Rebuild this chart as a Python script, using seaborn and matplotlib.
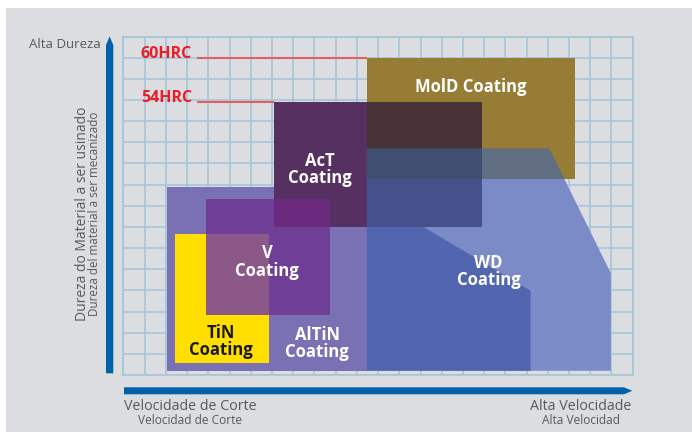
import numpy as np
import pandas as pd
import matplotlib
matplotlib.use("Agg")
import matplotlib.pyplot as plt
import seaborn as sns
from matplotlib.patches import Polygon, Rectangle

# ---------------- data (grid units: speed 0-24, hardness 0-16) ----------------
rect_names = ["AlTiN", "TiN", "V", "AcT", "MolD"]
rect_speed_lo = [2.06, 2.43, 3.87, 7.09, 11.48]
rect_speed_hi = [11.46, 6.86, 9.73, 16.91, 21.26]
rect_hard_lo = [0.19, 0.58, 2.85, 6.98, 9.25]
rect_hard_hi = [8.87, 6.65, 8.32, 12.90, 14.97]

wd_light_speed = [11.46, 20.07, 22.97, 22.97, 11.46]
wd_light_hard = [10.71, 10.71, 4.81, 0.20, 0.20]
wd_dark_speed = [11.46, 12.47, 19.19, 19.19, 11.46]
wd_dark_hard = [8.00, 8.00, 3.98, 0.20, 0.20]

hrc_labels = ["60HRC", "54HRC"]
hrc_levels = [14.97, 12.90]
hrc_line_start = [3.48, 3.48]
hrc_line_end = [11.48, 7.09]

label_names = ["MolD", "AcT", "V", "TiN", "AlTiN", "WD"]
label_texts = ["MolD Coating", "AcT\nCoating", "V\nCoating", "TiN\nCoating", "AlTiN\nCoating", "WD\nCoating"]
label_speed = [16.38, 9.24, 6.78, 4.61, 9.13, 17.21]
label_hard = [13.62, 9.71, 5.34, 1.58, 1.50, 4.90]
label_colors = ["white", "white", "white", "#1a1a1a", "white", "white"]

x_title = "Velocidade de Corte"
x_title_es = "Velocidad de Corte"
x_high = "Alta Velocidade"
x_high_es = "Alta Velocidad"
y_title = "Dureza do Material a ser usinado"
y_title_es = "Dureza del material a ser mecanizado"
y_high = "Alta Dureza"

# ---------------- style ----------------
sns.set_theme(style="white")
plt.rcParams["font.family"] = ["Open Sans", "DejaVu Sans"]

W, H = 692, 432
fig = plt.figure(figsize=(W / 100, H / 100), dpi=100, facecolor="white")
BG = "#dcdde0"
fig.add_artist(Rectangle((6 / W, 0), 1, 1 - 8 / H, transform=fig.transFigure,
                         facecolor=BG, edgecolor="none", zorder=0))

gx0, gx1, gy0, gy1 = 123.5, 632.7, 36.5, 375.0
ax = fig.add_axes([gx0 / W, 1 - gy1 / H, (gx1 - gx0) / W, (gy1 - gy0) / H])
ax.set_facecolor(BG)
ax.set_xlim(0, 24)
ax.set_ylim(0, 16)
ax.set_xticks(np.arange(0, 25))
ax.set_yticks(np.arange(0, 17))
GRID = "#a5c6d9"
ax.grid(True, color=GRID, lw=1.2)
ax.set_axisbelow(True)
ax.tick_params(length=0, labelbottom=False, labelleft=False)
for s in ax.spines.values():
    s.set_color(GRID)
    s.set_linewidth(1.2)

# ---------------- shapes ----------------
shapes = {}
for n, x0, x1, y0, y1 in zip(rect_names, rect_speed_lo, rect_speed_hi, rect_hard_lo, rect_hard_hi):
    shapes[n] = [(x0, y0), (x1, y0), (x1, y1), (x0, y1)]
shapes["WDL"] = list(zip(wd_light_speed, wd_light_hard))
shapes["WDD"] = list(zip(wd_dark_speed, wd_dark_hard))

def patch(verts, color, z):
    p = Polygon(verts, closed=True, facecolor=color, edgecolor="none",
                transform=ax.transData, zorder=z)
    return p

base_order = [("AlTiN", "#7a70b4"), ("WDL", "#7b8bc7"), ("WDD", "#5266b0"),
              ("MolD", "#967c34"), ("TiN", "#ffde00"), ("AcT", "#573062"),
              ("V", "#6f3e97")]
z = 3
for n, c in base_order:
    ax.add_patch(patch(shapes[n], c, z))
    z += 0.1

overlaps = [("V", "TiN", "#8b5888"), ("V", "AcT", "#6a2a7e"),
            ("MolD", "WDL", "#616e82"), ("AcT", "WDL", "#46508a"),
            ("AcT", "MolD", "#473236")]
for a, b, c in overlaps:
    p = patch(shapes[a], c, z)
    ax.add_patch(p)
    p.set_clip_path(patch(shapes[b], "none", z))
    z += 0.1

# triple: AcT & MolD & WD light
ia, im = rect_names.index("AcT"), rect_names.index("MolD")
tx0 = max(rect_speed_lo[ia], rect_speed_lo[im]); tx1 = min(rect_speed_hi[ia], rect_speed_hi[im])
ty0 = max(rect_hard_lo[ia], rect_hard_lo[im]); ty1 = min(rect_hard_hi[ia], rect_hard_hi[im])
p = patch([(tx0, ty0), (tx1, ty0), (tx1, ty1), (tx0, ty1)], "#3e4f71", z)
ax.add_patch(p)
p.set_clip_path(patch(shapes["WDL"], "none", z))

# HRC lines and labels
for lab, lev, xs, xe in zip(hrc_labels, hrc_levels, hrc_line_start, hrc_line_end):
    ax.plot([xs, xe], [lev, lev], color="#e4605f", lw=1.5, zorder=2.5, solid_capstyle="butt")
    ax.text(xs - 0.25, lev, lab, ha="right", va="baseline", color="#ec1c2a",
            fontsize=11.5, fontweight="bold", zorder=6)

# coating labels
for t, xs, ys, c in zip(label_texts, label_speed, label_hard, label_colors):
    ax.text(xs, ys, t, ha="center", va="center", color=c, fontsize=12,
            fontweight="bold", linespacing=0.95, zorder=10)

# ---------------- axis arrows (figure pixels) ----------------
BLUE = "#0061a8"
def px(pts):
    return [(x / W, 1 - y / H) for x, y in pts]
fig.add_artist(Polygon(px([(106, 373.3), (113.3, 373.3), (113.3, 45), (109.65, 36.5), (106, 45)]),
                       closed=True, transform=fig.transFigure, facecolor=BLUE, edgecolor="none"))
fig.add_artist(Polygon(px([(124, 387.3), (624, 387.3), (632.3, 390.8), (624, 394.3), (124, 394.3)]),
                       closed=True, transform=fig.transFigure, facecolor=BLUE, edgecolor="none"))

GREY = "#58595b"
fig.text(100.7 / W, 1 - 44.5 / H, y_high, ha="right", va="center", color=GREY, fontsize=9.5)
fig.text(82 / W, 1 - 214 / H, y_title, ha="center", va="center", rotation=90, color=GREY, fontsize=10)
fig.text(95 / W, 1 - 214 / H, y_title_es, ha="center", va="center", rotation=90, color=GREY, fontsize=8.4)
fig.text(190 / W, 1 - 406 / H, x_title, ha="center", va="center", color=GREY, fontsize=10.3)
fig.text(190 / W, 1 - 421 / H, x_title_es, ha="center", va="center", color=GREY, fontsize=8.6)
fig.text(581 / W, 1 - 406 / H, x_high, ha="center", va="center", color=GREY, fontsize=10.3)
fig.text(581 / W, 1 - 421 / H, x_high_es, ha="center", va="center", color=GREY, fontsize=8.6)

fig.savefig("out.png", dpi=100, facecolor="white")
